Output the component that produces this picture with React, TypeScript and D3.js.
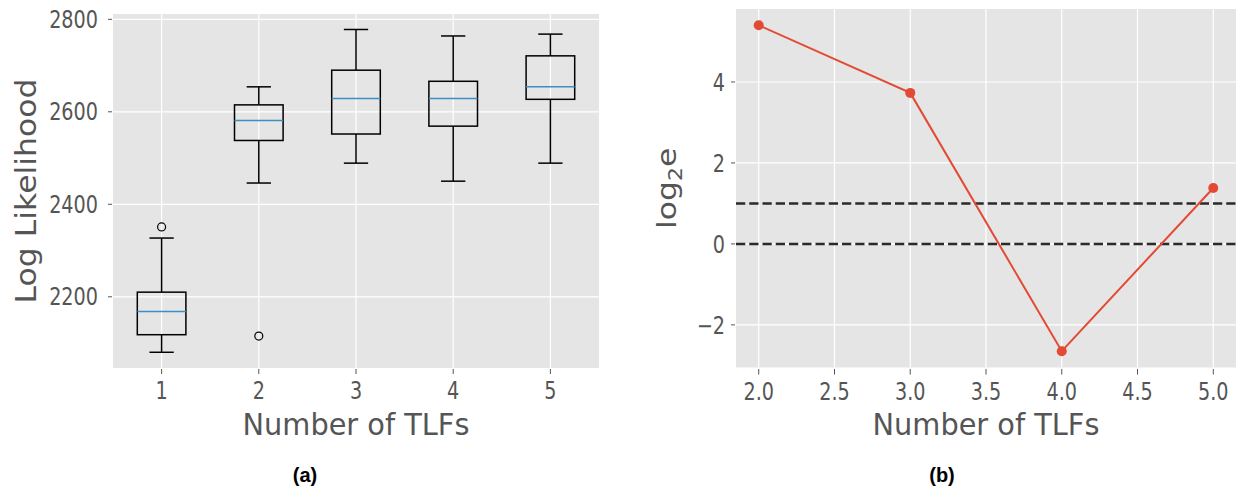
import React from "react";
import * as d3 from "d3";

// ---- Data: panel (a) boxplots ----
const boxCategories = [1, 2, 3, 4, 5];
const whiskerLow = [2080, 2446, 2489, 2450, 2489];
const quartile1 = [2118, 2538, 2552, 2569, 2627];
const medians = [2168, 2581, 2629, 2629, 2654];
const quartile3 = [2210, 2615, 2690, 2666, 2721];
const whiskerHigh = [2327, 2654, 2778, 2764, 2768];
const outliers: number[][] = [[2351], [2115], [], [], []];
const leftYTicks = [2200, 2400, 2600, 2800];

// ---- Data: panel (b) line ----
const tlfCounts = [2, 3, 4, 5];
const log2e = [5.4, 3.73, -2.65, 1.38];
const thresholds = [0, 1];
const rightXTicks = [2.0, 2.5, 3.0, 3.5, 4.0, 4.5, 5.0];
const rightYTicks = [-2, 0, 2, 4];

const BG = "#E5E5E5";
const TXT = "#555555";
const FONT = "DejaVu Sans, sans-serif";

export default function App() {
  // Panel (a)
  const aL = 113, aR = 599, aT = 14, aB = 368;
  const xa = d3.scaleLinear().domain([0.5, 5.5]).range([aL, aR]);
  const ya = d3.scaleLinear().domain([2046, 2811.5]).range([aB, aT]);
  const boxHalf = 0.25, capHalf = 0.125;

  // Panel (b)
  const bL = 736, bR = 1236, bT = 9, bB = 367.5;
  const xExt = d3.extent(tlfCounts) as [number, number];
  const yExt = d3.extent(log2e) as [number, number];
  const xm = (xExt[1] - xExt[0]) * 0.05;
  const ym = (yExt[1] - yExt[0]) * 0.05;
  const xb = d3.scaleLinear().domain([xExt[0] - xm, xExt[1] + xm]).range([bL, bR]);
  const yb = d3.scaleLinear().domain([yExt[0] - ym, yExt[1] + ym]).range([bB, bT]);
  const line = d3.line<number>().x((_, i) => xb(tlfCounts[i])).y((d) => yb(d));

  const tickText = (x: number, y: number, s: string, anchor: string, key: string | number, dy = "0") => (
    <text
      key={key}
      transform={`translate(${x},${y}) scale(0.8,1)`}
      textAnchor={anchor}
      dy={dy}
      fontSize={24}
      fill={TXT}
      fontFamily={FONT}
    >
      {s}
    </text>
  );

  const fmtMinus = (v: number, digits = 0) => {
    const s = digits ? Math.abs(v).toFixed(digits) : String(Math.abs(v));
    return v < 0 ? "\u2212" + s : s;
  };

  return (
    <svg
      width={1239}
      height={489}
      style={{ position: "fixed", left: 0, top: 0, background: "#fff" }}
    >
      {/* ---------- Panel (a) ---------- */}
      <rect x={aL} y={aT} width={aR - aL} height={aB - aT} fill={BG} />
      {boxCategories.map((c) => (
        <line key={"gx" + c} x1={xa(c)} x2={xa(c)} y1={aT} y2={aB} stroke="#fff" strokeWidth={1.2} />
      ))}
      {leftYTicks.map((t) => (
        <line key={"gy" + t} x1={aL} x2={aR} y1={ya(t)} y2={ya(t)} stroke="#fff" strokeWidth={1.2} />
      ))}
      {boxCategories.map((c) => (
        <line key={"tx" + c} x1={xa(c)} x2={xa(c)} y1={aB + 1} y2={aB + 6} stroke={TXT} strokeWidth={1} />
      ))}
      {leftYTicks.map((t) => (
        <line key={"ty" + t} x1={aL - 5} x2={aL - 1} y1={ya(t)} y2={ya(t)} stroke={TXT} strokeWidth={1} />
      ))}
      {boxCategories.map((c) => tickText(xa(c), 399, String(c), "middle", "xl" + c))}
      {leftYTicks.map((t) => tickText(98, ya(t), String(t), "end", "yl" + t, "0.36em"))}

      {boxCategories.map((c, i) => (
        <g key={"box" + c} fill="none" stroke="#000" strokeWidth={1.5}>
          <line x1={xa(c)} x2={xa(c)} y1={ya(whiskerLow[i])} y2={ya(quartile1[i])} />
          <line x1={xa(c)} x2={xa(c)} y1={ya(quartile3[i])} y2={ya(whiskerHigh[i])} />
          <line x1={xa(c - capHalf)} x2={xa(c + capHalf)} y1={ya(whiskerLow[i])} y2={ya(whiskerLow[i])} />
          <line x1={xa(c - capHalf)} x2={xa(c + capHalf)} y1={ya(whiskerHigh[i])} y2={ya(whiskerHigh[i])} />
          <rect
            x={xa(c - boxHalf)}
            y={ya(quartile3[i])}
            width={xa(c + boxHalf) - xa(c - boxHalf)}
            height={ya(quartile1[i]) - ya(quartile3[i])}
          />
          <line
            x1={xa(c - boxHalf)}
            x2={xa(c + boxHalf)}
            y1={ya(medians[i])}
            y2={ya(medians[i])}
            stroke="#3E8EC4"
          />
          {outliers[i].map((o, j) => (
            <circle key={j} cx={xa(c)} cy={ya(o)} r={4} strokeWidth={1.2} />
          ))}
        </g>
      ))}

      <text x={(aL + aR) / 2} y={435} textAnchor="middle" fontSize={30} fill={TXT} fontFamily={FONT}
        transform={`translate(${(aL + aR) / 2},0) scale(0.96,1) translate(${-(aL + aR) / 2},0)`}>
        Number of TLFs
      </text>
      <text
        transform={`translate(36,${(aT + aB) / 2}) scale(0.9,1) rotate(-90)`}
        textAnchor="middle"
        fontSize={31.5}
        fill={TXT}
        fontFamily={FONT}
      >
        Log Likelihood
      </text>

      {/* ---------- Panel (b) ---------- */}
      <rect x={bL} y={bT} width={bR - bL} height={bB - bT} fill={BG} />
      {rightXTicks.map((t) => (
        <line key={"bgx" + t} x1={xb(t)} x2={xb(t)} y1={bT} y2={bB} stroke="#fff" strokeWidth={1.2} />
      ))}
      {rightYTicks.map((t) => (
        <line key={"bgy" + t} x1={bL} x2={bR} y1={yb(t)} y2={yb(t)} stroke="#fff" strokeWidth={1.2} />
      ))}
      {rightXTicks.map((t) => (
        <line key={"btx" + t} x1={xb(t)} x2={xb(t)} y1={bB + 1.5} y2={bB + 7} stroke={TXT} strokeWidth={1} />
      ))}
      {rightYTicks.map((t) => (
        <line key={"bty" + t} x1={bL - 5} x2={bL - 1} y1={yb(t)} y2={yb(t)} stroke={TXT} strokeWidth={1} />
      ))}
      {rightXTicks.map((t) => tickText(xb(t), 400, fmtMinus(t, 1), "middle", "bxl" + t))}
      {rightYTicks.map((t) => tickText(725, yb(t), fmtMinus(t), "end", "byl" + t, "0.36em"))}

      {thresholds.map((t) => (
        <line
          key={"th" + t}
          x1={bL}
          x2={bR}
          y1={yb(t)}
          y2={yb(t)}
          stroke="#2a2a2a"
          strokeWidth={2.5}
          strokeDasharray="9.25,4"
        />
      ))}
      <path d={line(log2e) || ""} fill="none" stroke="#E24A33" strokeWidth={2} />
      {log2e.map((v, i) => (
        <circle key={"pt" + i} cx={xb(tlfCounts[i])} cy={yb(v)} r={5} fill="#E24A33" />
      ))}

      <text textAnchor="middle" fontSize={30} fill={TXT} fontFamily={FONT}
        transform={`translate(${(bL + bR) / 2},435) scale(0.96,1)`}>
        Number of TLFs
      </text>
      <text
        transform={`translate(676,${(bT + bB) / 2}) scale(0.85,1) rotate(-90)`}
        textAnchor="middle"
        fontSize={31.5}
        fill={TXT}
        fontFamily={FONT}
      >
        log<tspan fontSize={22} dy={7}>2</tspan><tspan dy={-7}>e</tspan>
      </text>

      {/* ---------- Captions ---------- */}
      <text x={305} y={482} textAnchor="middle" fontSize={20} fontWeight="bold" fontFamily="Liberation Sans, Arial, sans-serif" fill="#000">
        (a)
      </text>
      <text x={942} y={482} textAnchor="middle" fontSize={20} fontWeight="bold" fontFamily="Liberation Sans, Arial, sans-serif" fill="#000">
        (b)
      </text>
    </svg>
  );
}
